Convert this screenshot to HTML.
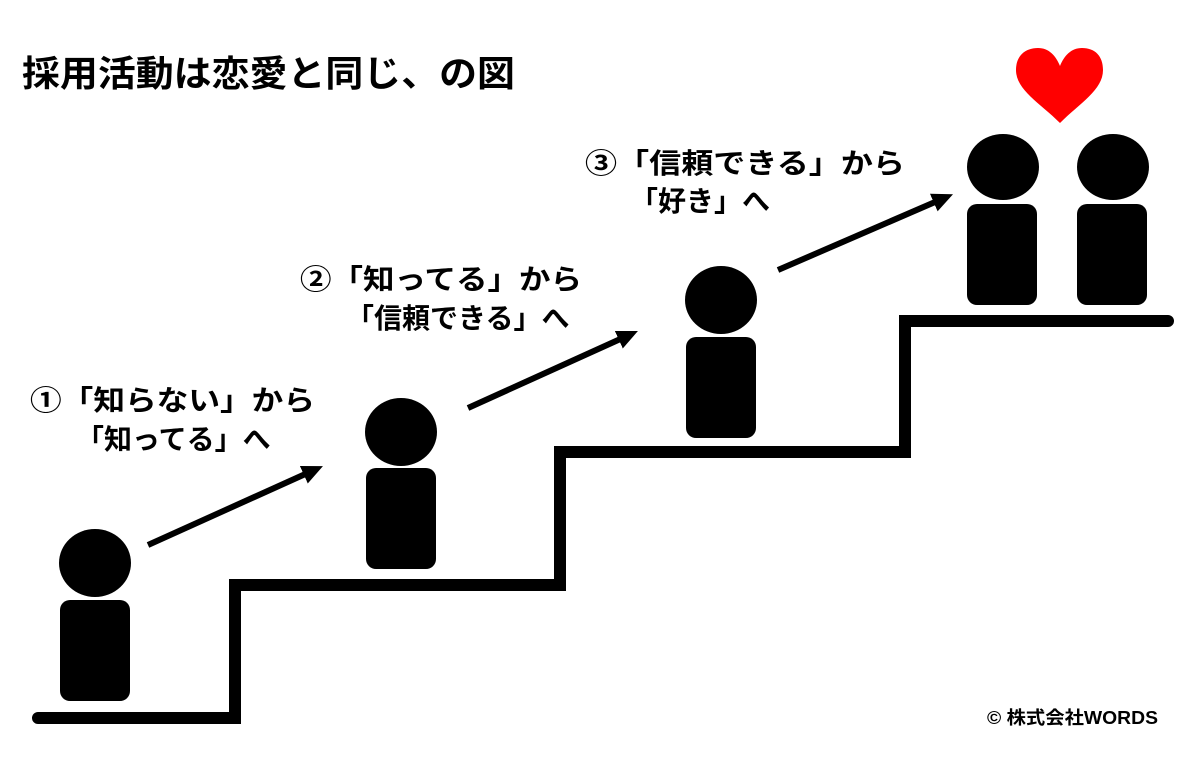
<!DOCTYPE html>
<html><head><meta charset="utf-8"><style>
html,body{margin:0;padding:0;background:#fff;}
svg{display:block;}
text{font-family:"Liberation Sans","Noto Sans CJK JP",sans-serif;font-weight:bold;fill:#000;}
</style></head><body>
<svg width="1200" height="761" viewBox="0 0 1200 761" xmlns="http://www.w3.org/2000/svg">
<defs><marker id="ah" markerWidth="4" markerHeight="4" refX="1.5" refY="1.6" orient="auto" markerUnits="strokeWidth"><path d="M0,0 L3.5,1.6 L0,3.2 z" fill="#000"/></marker></defs>
<text x="22" y="86" font-size="36" textLength="493" lengthAdjust="spacingAndGlyphs">採用活動は恋愛と同じ、の図</text>
<path d="M38 718 H235 V585 H560 V452 H905 V321 H1168" fill="none" stroke="#000" stroke-width="12" stroke-linecap="round" stroke-linejoin="miter"/>
<g fill="#000">
<ellipse cx="95" cy="563" rx="36" ry="34"/><rect x="60" y="600" width="70" height="101" rx="10"/>
<ellipse cx="401" cy="432" rx="36" ry="34"/><rect x="366" y="468" width="70" height="101" rx="10"/>
<ellipse cx="721" cy="300" rx="36" ry="34"/><rect x="686" y="337" width="70" height="101" rx="10"/>
<ellipse cx="1003" cy="167" rx="36" ry="33"/><rect x="967" y="204" width="70" height="101" rx="10"/>
<ellipse cx="1113" cy="167" rx="36" ry="33"/><rect x="1077" y="204" width="70" height="101" rx="10"/>
</g>
<g stroke="#000" stroke-width="6">
<line x1="148" y1="545" x2="312" y2="471" marker-end="url(#ah)"/>
<line x1="468" y1="408" x2="627" y2="336" marker-end="url(#ah)"/>
<line x1="778" y1="270" x2="942" y2="199" marker-end="url(#ah)"/>
</g>
<path d="M1060 123 C1040 103 1016 90 1016 70 C1016 56 1025 48 1038 48 C1049 48 1056 56 1060 66 C1064 56 1071 48 1082 48 C1095 48 1103 56 1103 70 C1103 90 1080 103 1060 123 Z" fill="#ff0000"/>
<text x="30" y="410" font-size="28" textLength="285" lengthAdjust="spacingAndGlyphs">①「知らない」から</text>
<text x="76" y="449" font-size="28">「知ってる」へ</text>
<text x="300" y="289" font-size="28" textLength="282" lengthAdjust="spacingAndGlyphs">②「知ってる」から</text>
<text x="346" y="328" font-size="28">「信頼できる」へ</text>
<text x="585" y="173" font-size="28" textLength="320" lengthAdjust="spacingAndGlyphs">③「信頼できる」から</text>
<text x="630" y="211" font-size="28">「好き」へ</text>
<text x="987" y="724" font-size="18" textLength="171" lengthAdjust="spacingAndGlyphs">© 株式会社WORDS</text>
</svg>
</body></html>
